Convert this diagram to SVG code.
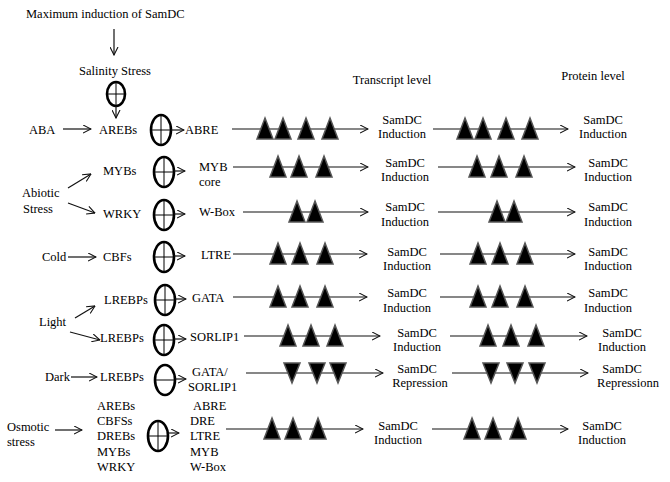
<svg xmlns="http://www.w3.org/2000/svg" width="670" height="482" viewBox="0 0 670 482" font-family="'Liberation Serif', 'DejaVu Serif', serif">
<style>
text{font-family:'Liberation Serif','Times New Roman','DejaVu Serif',serif;font-size:12.5px;fill:#000}
.m{text-anchor:middle}
.ca{stroke:#111;stroke-width:1.2;fill:none;marker-end:url(#ah)}
.el{stroke:#000;stroke-width:2.6;fill:none}
.x{stroke:#000;stroke-width:1;fill:none}
.tri{fill:#000;stroke:#555;stroke-width:1.5;stroke-linejoin:miter}
</style>
<defs>
<marker id="ah" viewBox="0 0 9 9" refX="8.5" refY="4.5" markerWidth="9" markerHeight="9" markerUnits="userSpaceOnUse" orient="auto">
<path d="M0.5,0.5 L8.5,4.5 L0.5,8.5" fill="none" stroke="#111" stroke-width="1.1"/>
</marker>
<polygon id="up" class="tri" points="0,-11 8,10 -8,10"/>
<polygon id="dn" class="tri" points="-8,-10 8,-10 0,10"/>
<g id="inh"><ellipse class="el" cx="0" cy="0" rx="10" ry="15"/><line class="x" x1="-10" y1="0" x2="10" y2="0"/><line class="x" x1="0" y1="-15" x2="0" y2="15"/></g>
</defs>

<g id="header">
<text x="26" y="18">Maximum induction of SamDC</text>
<text class="m" x="115" y="75">Salinity Stress</text>
<text class="m" x="392" y="84">Transcript level</text>
<text class="m" x="593" y="80">Protein level</text>
</g>

<g id="salinity-inh"><ellipse class="el" cx="116" cy="94" rx="9" ry="12"/><line class="x" x1="107" y1="94" x2="125" y2="94"/><line class="x" x1="116" y1="82" x2="116" y2="106"/></g>

<g id="sources">
<text x="29" y="134">ABA</text>
<text x="22" y="197">Abiotic</text>
<text x="23" y="213">Stress</text>
<text x="42" y="261">Cold</text>
<text x="39" y="326">Light</text>
<text x="45" y="381">Dark</text>
<text x="7" y="431">Osmotic</text>
<text x="7" y="446">stress</text>
</g>

<g id="factors">
<text x="99" y="134">AREBs</text>
<text x="103" y="175">MYBs</text>
<text x="103" y="218">WRKY</text>
<text x="103" y="261">CBFs</text>
<text x="104" y="304">LREBPs</text>
<text x="100" y="342">LREBPs</text>
<text x="100" y="381">LREBPs</text>
<text x="97" y="410">AREBs</text>
<text x="97" y="425">CBFSs</text>
<text x="97" y="440">DREBs</text>
<text x="97" y="456">MYBs</text>
<text x="97" y="471">WRKY</text>
</g>

<g id="inhibitors">
<use href="#inh" x="161" y="130"/>
<use href="#inh" x="164" y="172"/>
<use href="#inh" x="164" y="215"/>
<use href="#inh" x="164" y="257"/>
<use href="#inh" x="165" y="300"/>
<use href="#inh" x="164" y="340"/>
<g id="dark-inh"><ellipse class="el" cx="165" cy="380" rx="10" ry="15"/><line class="x" x1="155" y1="380" x2="175" y2="380"/></g>
<use href="#inh" x="158" y="436"/>
</g>

<g id="elements">
<text x="185" y="134">ABRE</text>
<text x="199" y="171">MYB</text>
<text x="199" y="186">core</text>
<text x="199" y="216">W-Box</text>
<text x="201" y="259">LTRE</text>
<text x="192" y="302">GATA</text>
<text x="190" y="341">SORLIP1</text>
<text x="192" y="376">GATA/</text>
<text x="188" y="391">SORLIP1</text>
<text x="193" y="410">ABRE</text>
<text x="190" y="425">DRE</text>
<text x="190" y="440">LTRE</text>
<text x="190" y="456">MYB</text>
<text x="190" y="471">W-Box</text>
</g>

<g id="connectors">
<line class="ca" x1="114" y1="29" x2="114" y2="55"/>
<line class="ca" x1="116" y1="106" x2="116" y2="118"/>
<line class="ca" x1="63" y1="129" x2="91" y2="129"/>
<line class="ca" x1="68" y1="188" x2="91" y2="174"/>
<line class="ca" x1="68" y1="203" x2="95" y2="213"/>
<line class="ca" x1="68" y1="257" x2="96" y2="257"/>
<line class="ca" x1="75" y1="318" x2="95" y2="306"/>
<line class="ca" x1="70" y1="332" x2="100" y2="340"/>
<line class="ca" x1="71" y1="377" x2="97" y2="377"/>
<line class="ca" x1="55" y1="430" x2="82" y2="430"/>
<line class="ca" x1="171" y1="130" x2="184" y2="130"/>
<line class="ca" x1="174" y1="171" x2="185" y2="171"/>
<line class="ca" x1="174" y1="214" x2="185" y2="214"/>
<line class="ca" x1="174" y1="256" x2="185" y2="256"/>
<line class="ca" x1="175" y1="299" x2="186" y2="299"/>
<line class="ca" x1="174" y1="339" x2="186" y2="339"/>
<line class="ca" x1="175" y1="379" x2="186" y2="379"/>
<line class="ca" x1="168" y1="433" x2="179" y2="433"/>
<line class="ca" x1="232" y1="129" x2="368" y2="129"/>
<line class="ca" x1="233" y1="167" x2="368" y2="167"/>
<line class="ca" x1="243" y1="212" x2="368" y2="212"/>
<line class="ca" x1="233" y1="254" x2="367" y2="254"/>
<line class="ca" x1="233" y1="297" x2="367" y2="297"/>
<line class="ca" x1="244" y1="336" x2="380" y2="336"/>
<line class="ca" x1="246" y1="373" x2="383" y2="373"/>
<line class="ca" x1="226" y1="429" x2="363" y2="429"/>
<line class="ca" x1="433" y1="129" x2="568" y2="129"/>
<line class="ca" x1="438" y1="167" x2="575" y2="167"/>
<line class="ca" x1="438" y1="212" x2="575" y2="212"/>
<line class="ca" x1="440" y1="254" x2="575" y2="254"/>
<line class="ca" x1="440" y1="297" x2="575" y2="297"/>
<line class="ca" x1="450" y1="336" x2="587" y2="336"/>
<line class="ca" x1="452" y1="373" x2="588" y2="373"/>
<line class="ca" x1="432" y1="429" x2="568" y2="429"/>
</g>

<g id="motifs">
<use href="#up" x="265" y="129"/><use href="#up" x="283" y="129"/><use href="#up" x="306" y="129"/><use href="#up" x="330" y="129"/>
<use href="#up" x="465" y="129"/><use href="#up" x="483" y="129"/><use href="#up" x="506" y="129"/><use href="#up" x="530" y="129"/>
<use href="#up" x="278" y="167"/><use href="#up" x="299" y="167"/><use href="#up" x="324" y="167"/>
<use href="#up" x="477" y="167"/><use href="#up" x="499" y="167"/><use href="#up" x="524" y="167"/>
<use href="#up" x="297" y="212"/><use href="#up" x="315" y="212"/>
<use href="#up" x="497" y="212"/><use href="#up" x="514" y="212"/>
<use href="#up" x="278" y="254"/><use href="#up" x="300" y="254"/><use href="#up" x="325" y="254"/>
<use href="#up" x="478" y="254"/><use href="#up" x="500" y="254"/><use href="#up" x="525" y="254"/>
<use href="#up" x="278" y="297"/><use href="#up" x="300" y="297"/><use href="#up" x="325" y="297"/>
<use href="#up" x="478" y="297"/><use href="#up" x="500" y="297"/><use href="#up" x="525" y="297"/>
<use href="#up" x="288" y="336"/><use href="#up" x="311" y="336"/><use href="#up" x="335" y="336"/>
<use href="#up" x="488" y="336"/><use href="#up" x="511" y="336"/><use href="#up" x="536" y="336"/>
<use href="#dn" x="292" y="373"/><use href="#dn" x="317" y="373"/><use href="#dn" x="338" y="373"/>
<use href="#dn" x="491" y="373"/><use href="#dn" x="515" y="373"/><use href="#dn" x="537" y="373"/>
<use href="#up" x="272" y="429"/><use href="#up" x="293" y="429"/><use href="#up" x="318" y="429"/>
<use href="#up" x="472" y="429"/><use href="#up" x="493" y="429"/><use href="#up" x="518" y="429"/>
</g>

<g id="outcomes">
<text class="m" x="402" y="124">SamDC</text><text class="m" x="402" y="138">Induction</text>
<text class="m" x="603" y="124">SamDC</text><text class="m" x="603" y="138">Induction</text>
<text class="m" x="405" y="167">SamDC</text><text class="m" x="405" y="181">Induction</text>
<text class="m" x="608" y="167">SamDC</text><text class="m" x="608" y="181">Induction</text>
<text class="m" x="405" y="211">SamDC</text><text class="m" x="405" y="226">Induction</text>
<text class="m" x="608" y="211">SamDC</text><text class="m" x="608" y="226">Induction</text>
<text class="m" x="407" y="256">SamDC</text><text class="m" x="407" y="270">Induction</text>
<text class="m" x="608" y="256">SamDC</text><text class="m" x="608" y="270">Induction</text>
<text class="m" x="407" y="297">SamDC</text><text class="m" x="407" y="312">Induction</text>
<text class="m" x="608" y="297">SamDC</text><text class="m" x="608" y="312">Induction</text>
<text class="m" x="417" y="337">SamDC</text><text class="m" x="417" y="351">Induction</text>
<text class="m" x="622" y="337">SamDC</text><text class="m" x="622" y="351">Induction</text>
<text class="m" x="417" y="373">SamDC</text><text class="m" x="420" y="387">Repression</text>
<text class="m" x="622" y="373">SamDC</text><text class="m" x="628" y="387">Repressionn</text>
<text class="m" x="398" y="430">SamDC</text><text class="m" x="398" y="444">Induction</text>
<text class="m" x="602" y="430">SamDC</text><text class="m" x="602" y="444">Induction</text>
</g>
</svg>
